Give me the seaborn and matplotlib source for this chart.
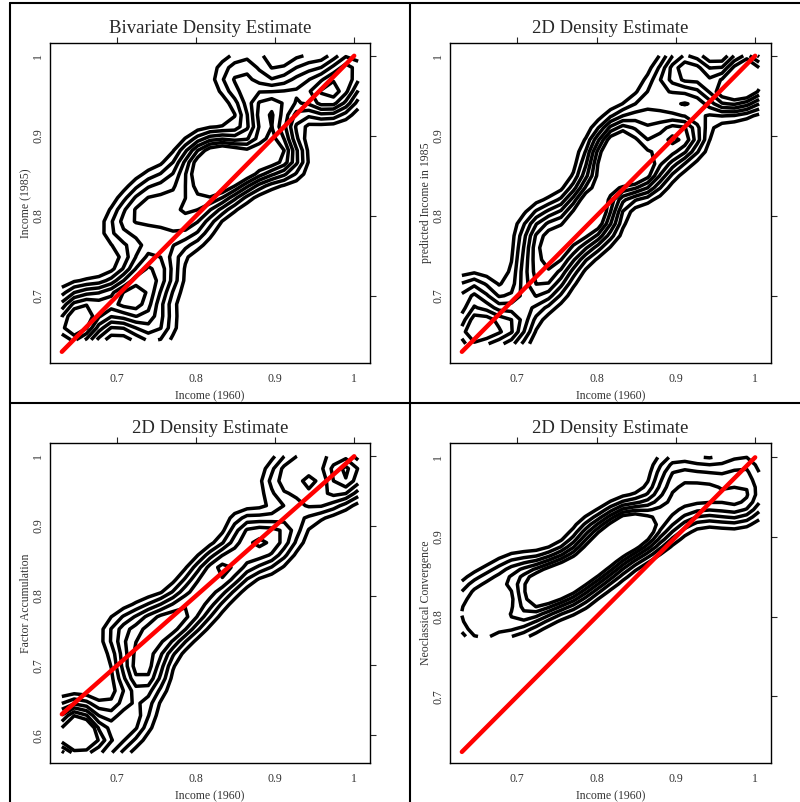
import numpy as np
import matplotlib.pyplot as plt
from matplotlib.lines import Line2D
import seaborn as sns

# hand-read point clouds: income 1960 (x) against the panel's outcome (y)
inc1960_a = [0.635, 0.645, 0.655, 0.665, 0.64, 0.66, 0.68, 0.70,
             0.71, 0.72, 0.73, 0.725, 0.74, 0.75, 0.735, 0.755, 0.745, 0.765,
             0.70, 0.715, 0.73, 0.75, 0.74, 0.76,
             0.77, 0.78, 0.785, 0.79, 0.80, 0.805, 0.81, 0.815, 0.82, 0.825, 0.83,
             0.835, 0.84, 0.845, 0.85, 0.80,
             0.86, 0.87, 0.88, 0.89, 0.90, 0.91, 0.92, 0.90, 0.88,
             0.84, 0.86, 0.88, 0.895, 0.91, 0.92, 0.94, 0.95, 0.96, 0.97, 0.98,
             0.99, 1.0, 1.005, 0.985, 0.87, 0.63]
inc1985_a = [0.645, 0.665, 0.655, 0.67, 0.69, 0.695, 0.69, 0.695,
             0.70, 0.675, 0.69, 0.72, 0.71, 0.74, 0.75, 0.67, 0.65, 0.72,
             0.78, 0.80, 0.82, 0.84, 0.79, 0.81,
             0.77, 0.80, 0.84, 0.865, 0.81, 0.88, 0.84, 0.86, 0.82, 0.885, 0.85,
             0.87, 0.83, 0.88, 0.86, 0.78,
             0.85, 0.87, 0.86, 0.89, 0.87, 0.88, 0.865, 0.905, 0.92,
             0.975, 0.96, 0.945, 0.93, 0.94, 0.96, 0.985, 0.95, 0.94, 0.955, 0.97,
             0.99, 1.0, 0.975, 0.945, 0.995, 0.66]

inc1960_b = [0.63, 0.64, 0.655, 0.665, 0.645, 0.635, 0.65,
             0.685, 0.695, 0.70,
             0.715, 0.72, 0.73, 0.735, 0.745, 0.75, 0.755, 0.765, 0.72, 0.74,
             0.775, 0.78, 0.79, 0.795, 0.805, 0.81, 0.815, 0.79,
             0.80, 0.81, 0.82, 0.825, 0.83, 0.84, 0.85, 0.835, 0.845,
             0.86, 0.87, 0.88, 0.89, 0.90, 0.91, 0.92, 0.86,
             0.88, 0.90, 0.91, 0.92, 0.93, 0.95, 0.96, 0.97, 0.98, 0.99, 1.0,
             0.985, 1.005, 0.995]
inc1985_b = [0.645, 0.66, 0.67, 0.66, 0.64, 0.70, 0.705,
             0.645, 0.66, 0.68,
             0.72, 0.745, 0.70, 0.76, 0.72, 0.775, 0.74, 0.76, 0.78, 0.80,
             0.79, 0.815, 0.80, 0.83, 0.81, 0.79, 0.835, 0.77,
             0.86, 0.885, 0.87, 0.90, 0.855, 0.885, 0.87, 0.91, 0.85,
             0.84, 0.86, 0.90, 0.875, 0.91, 0.89, 0.905, 0.93,
             0.96, 0.98, 1.0, 0.97, 0.985, 0.95, 0.96, 0.945, 0.97, 0.99, 0.98,
             1.0, 0.96, 0.955]

inc1960_c = [0.63, 0.64, 0.65, 0.66, 0.67, 0.645, 0.635, 0.66, 0.645, 0.655,
             0.69, 0.70, 0.71, 0.72, 0.73,
             0.715, 0.72, 0.73, 0.735, 0.745, 0.75, 0.76, 0.765, 0.775, 0.78,
             0.79, 0.795, 0.805, 0.81, 0.82, 0.825, 0.835, 0.84, 0.85, 0.73, 0.745,
             0.70, 0.71, 0.74,
             0.86, 0.87, 0.88, 0.89, 0.90, 0.905, 0.92, 0.86,
             0.90, 0.915, 0.92, 0.93, 0.94, 0.96, 0.975, 0.985, 0.99, 1.0,
             1.005, 0.995, 0.95, 0.97]
inc1985_c = [0.585, 0.60, 0.59, 0.605, 0.58, 0.62, 0.635, 0.635, 0.595, 0.60,
             0.575, 0.60, 0.63, 0.61, 0.64,
             0.69, 0.72, 0.70, 0.74, 0.71, 0.755, 0.73, 0.77, 0.75, 0.79,
             0.765, 0.81, 0.78, 0.83, 0.80, 0.845, 0.82, 0.855, 0.835, 0.67, 0.68,
             0.74, 0.76, 0.775,
             0.87, 0.89, 0.85, 0.88, 0.86, 0.90, 0.89, 0.905,
             0.96, 0.985, 0.95, 0.99, 0.93, 0.935, 0.95, 0.97, 0.99, 1.0,
             0.975, 0.955, 1.0, 0.995]

inc1960_d = [0.63, 0.64, 0.655, 0.66, 0.68, 0.69, 0.70, 0.70, 0.655,
             0.72, 0.73, 0.74, 0.75, 0.76, 0.77, 0.78, 0.79, 0.80, 0.81, 0.82,
             0.83, 0.84, 0.845, 0.85,
             0.715, 0.725, 0.745, 0.765, 0.785, 0.795, 0.805, 0.825, 0.835,
             0.86, 0.87, 0.88, 0.89, 0.90,
             0.89, 0.90, 0.91, 0.925, 0.93, 0.94, 0.95, 0.96, 0.97, 0.98, 0.99,
             1.0, 1.005, 0.985]
inc1985_d = [0.80, 0.825, 0.79, 0.835, 0.845, 0.79, 0.86, 0.80, 0.775,
             0.82, 0.84, 0.83, 0.85, 0.84, 0.87, 0.855, 0.88, 0.87, 0.90, 0.885,
             0.91, 0.90, 0.92, 0.895,
             0.845, 0.81, 0.86, 0.825, 0.845, 0.905, 0.86, 0.875, 0.925,
             0.90, 0.93, 0.91, 0.945, 0.925,
             0.975, 0.995, 0.96, 0.94, 0.985, 0.95, 0.97, 0.935, 0.995, 0.95, 0.975,
             1.0, 0.955, 0.935]

titles = ["Bivariate Density Estimate", "2D Density Estimate",
          "2D Density Estimate", "2D Density Estimate"]
ylabels = ["Income (1985)", "predicted Income in 1985",
           "Factor Accumulation", "Neoclassical Convergence"]
yticks = [[0.7, 0.8, 0.9, 1.0], [0.7, 0.8, 0.9, 1.0],
          [0.6, 0.7, 0.8, 0.9, 1.0], [0.7, 0.8, 0.9, 1.0]]
xticks = [0.7, 0.8, 0.9, 1.0]
diag = [0.63, 1.0]
ylims = [(0.616, 1.016), (0.616, 1.016), (0.56, 1.019), (0.616, 1.018)]
level_frac = [0.16, 0.26, 0.36, 0.46, 0.56, 0.66]


def kde2d(x, y, sd=0.019, n=25):
    # product gaussian kernel on a coarse grid spanning the data range
    x = np.asarray(x)
    y = np.asarray(y)
    gx = np.linspace(x.min(), x.max(), n)
    gy = np.linspace(y.min(), y.max(), n)
    kx = np.exp(-0.5 * ((gx[:, None] - x[None, :]) / sd) ** 2)
    ky = np.exp(-0.5 * ((gy[:, None] - y[None, :]) / sd) ** 2)
    z = ky @ kx.T / (len(x) * 2 * np.pi * sd * sd)
    return gx, gy, z


def fmt(v):
    return "1" if v == 1.0 else f"{v:.1f}"


sns.set_style("white")
plt.rcParams['font.family'] = ['Liberation Serif', 'DejaVu Serif']

fig = plt.figure(figsize=(8, 8.02), dpi=100)
boxes = [(0.0625, 0.5474, 0.4, 0.399), (0.5625, 0.5474, 0.40125, 0.399),
         (0.0625, 0.0486, 0.4, 0.399), (0.5625, 0.0486, 0.40125, 0.399)]
data = [(inc1960_a, inc1985_a), (inc1960_b, inc1985_b),
        (inc1960_c, inc1985_c), (inc1960_d, inc1985_d)]

for i, ((xs, ys), box) in enumerate(zip(data, boxes)):
    ax = fig.add_axes(box)
    gx, gy, z = kde2d(xs, ys)
    ax.contour(gx, gy, z, levels=[f * z.max() for f in level_frac],
               colors="black", linewidths=2.5)
    sns.lineplot(x=diag, y=diag, ax=ax, color="red", linewidth=3.2)
    ax.set_xlim(0.615, 1.02)
    ax.set_ylim(*ylims[i])
    ax.set_xticks(xticks)
    ax.set_xticklabels([fmt(v) for v in xticks], fontsize=8.5, color="#333333")
    ax.set_yticks(yticks[i])
    ax.set_yticklabels([fmt(v) for v in yticks[i]], fontsize=8.5, color="#333333",
                       rotation=90, va="center")
    ax.tick_params(direction="out", length=4, width=0.8, top=True, right=True,
                   labeltop=False, labelright=False)
    ax.tick_params(axis="x", pad=3)
    ax.tick_params(axis="y", pad=0)
    for s in ax.spines.values():
        s.set_linewidth(1.0)
        s.set_color("black")
    ax.set_title(titles[i], fontsize=13.5, pad=7)
    ax.set_xlabel("Income (1960)", fontsize=8.5, color="#333333", labelpad=4)
    ax.set_ylabel(ylabels[i], fontsize=8.5, color="#333333", labelpad=0)

# panel frame lines
fw = 1.5
fig.add_artist(Line2D([10 / 800, 10 / 800], [0, 1 - 3 / 802], color="black", lw=fw))
fig.add_artist(Line2D([410 / 800, 410 / 800], [0, 1 - 3 / 802], color="black", lw=fw))
fig.add_artist(Line2D([10 / 800, 1], [1 - 3 / 802, 1 - 3 / 802], color="black", lw=fw))
fig.add_artist(Line2D([10 / 800, 1], [1 - 403 / 802, 1 - 403 / 802], color="black", lw=fw))

fig.savefig("out.png", dpi=100)
